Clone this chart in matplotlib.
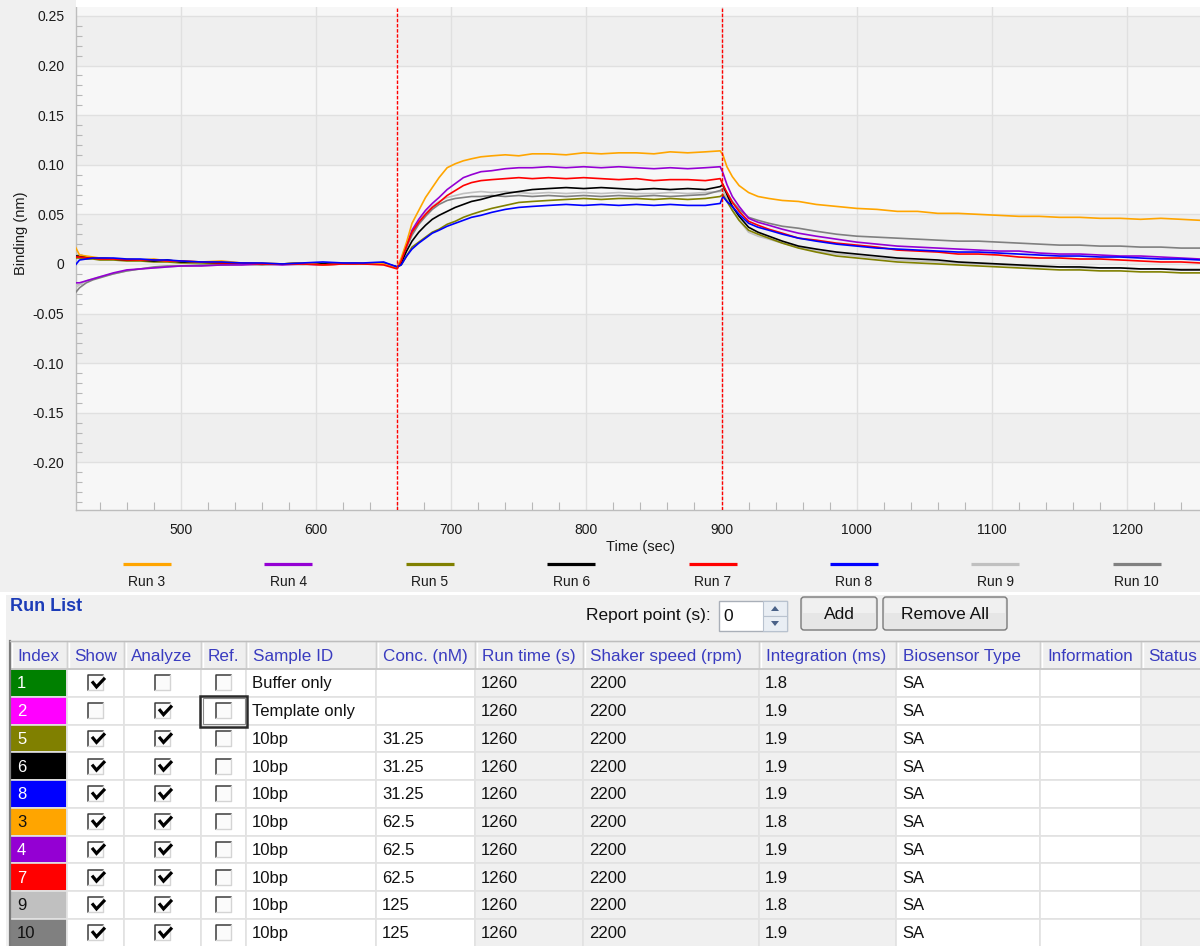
import matplotlib
matplotlib.use("Agg")  # headless
import matplotlib.pyplot as plt
from matplotlib.patches import Rectangle, FancyBboxPatch, Polygon
from matplotlib.ticker import MultipleLocator, FuncFormatter
from matplotlib.colors import to_rgb

plt.rcParams["font.family"] = ["Liberation Sans", "DejaVu Sans"]

# ---- sensorgram traces (time in s, binding in nm) ----
T = [422, 425, 430, 435, 440, 450, 460, 470, 480, 490, 500, 515, 530, 545, 560, 575, 590, 605, 620, 635, 650, 660,
     663, 667, 671, 676, 681, 686, 691, 697, 703, 709, 715, 722, 730, 740, 750, 760, 772, 785, 798, 811, 824, 837,
     850, 862, 875, 888, 899,
     901, 904, 908, 913, 920, 927, 935, 945, 957, 970, 985, 1000, 1015, 1030, 1045, 1060, 1075, 1090, 1105, 1120,
     1135, 1150, 1165, 1180, 1195, 1210, 1225, 1240, 1254]

RUN3 = [0.017, 0.009, 0.008, 0.007, 0.006, 0.005, 0.005, 0.004, 0.005, 0.003, 0.003, 0.002, 0.003, 0.001, 0.001, 0.000,
        0.001, -0.001, 0.000, 0.001, 0.000, -0.004,
        0.006, 0.022, 0.041, 0.054, 0.067, 0.077, 0.087, 0.097, 0.101, 0.104, 0.106, 0.108, 0.109, 0.110, 0.109, 0.111,
        0.111, 0.110, 0.112, 0.111, 0.112, 0.112, 0.111, 0.113, 0.112, 0.113, 0.114,
        0.110, 0.098, 0.088, 0.079, 0.072, 0.068, 0.066, 0.064, 0.063, 0.060, 0.058, 0.056, 0.055, 0.053, 0.053, 0.051,
        0.051, 0.050, 0.049, 0.048, 0.048, 0.047, 0.047, 0.046, 0.046, 0.045, 0.046, 0.045, 0.044]
RUN4 = [-0.019, -0.019, -0.017, -0.015, -0.013, -0.009, -0.006, -0.005, -0.004, -0.003, -0.002, -0.002, -0.001, -0.001,
        0.000, -0.001, 0.000, -0.001, 0.000, 0.001, 0.000, -0.003,
        0.004, 0.019, 0.034, 0.045, 0.054, 0.061, 0.067, 0.075, 0.081, 0.087, 0.090, 0.093, 0.094, 0.096, 0.097, 0.097,
        0.098, 0.097, 0.098, 0.097, 0.098, 0.097, 0.096, 0.097, 0.096, 0.097, 0.098,
        0.092, 0.080, 0.068, 0.058, 0.046, 0.042, 0.039, 0.035, 0.031, 0.028, 0.025, 0.022, 0.020, 0.018, 0.017, 0.016,
        0.015, 0.014, 0.013, 0.013, 0.011, 0.010, 0.010, 0.009, 0.008, 0.008, 0.007, 0.006, 0.005]
RUN5 = [0.006, 0.006, 0.005, 0.005, 0.004, 0.004, 0.003, 0.003, 0.002, 0.002, 0.001, 0.001, 0.000, 0.001, 0.000, 0.000,
        0.001, 0.000, 0.001, 0.000, 0.000, -0.003,
        -0.001, 0.008, 0.017, 0.022, 0.027, 0.032, 0.035, 0.040, 0.043, 0.047, 0.050, 0.053, 0.056, 0.059, 0.062, 0.063,
        0.064, 0.065, 0.066, 0.065, 0.066, 0.066, 0.065, 0.066, 0.065, 0.066, 0.068,
        0.070, 0.063, 0.054, 0.044, 0.034, 0.030, 0.026, 0.021, 0.016, 0.012, 0.008, 0.006, 0.004, 0.002, 0.001, 0.000,
        -0.001, -0.002, -0.003, -0.004, -0.005, -0.006, -0.006, -0.007, -0.007, -0.008, -0.008, -0.009, -0.009]
RUN6 = [0.008, 0.008, 0.007, 0.006, 0.006, 0.005, 0.004, 0.004, 0.003, 0.004, 0.002, 0.002, 0.001, 0.001, 0.000, 0.000,
        0.001, 0.000, 0.000, 0.001, 0.001, -0.003,
        0.001, 0.013, 0.023, 0.032, 0.039, 0.045, 0.049, 0.053, 0.057, 0.060, 0.063, 0.065, 0.068, 0.071, 0.073, 0.075,
        0.076, 0.077, 0.076, 0.077, 0.076, 0.075, 0.076, 0.075, 0.076, 0.075, 0.078,
        0.080, 0.070, 0.058, 0.048, 0.037, 0.032, 0.028, 0.023, 0.018, 0.015, 0.012, 0.010, 0.008, 0.006, 0.005, 0.004,
        0.002, 0.001, 0.000, -0.001, -0.002, -0.003, -0.003, -0.004, -0.004, -0.005, -0.005, -0.006, -0.006]
RUN7 = [0.007, 0.007, 0.006, 0.006, 0.005, 0.005, 0.004, 0.004, 0.004, 0.003, 0.003, 0.002, 0.001, 0.001, 0.000, 0.000,
        0.000, -0.001, 0.000, 0.000, -0.001, -0.005,
        0.003, 0.018, 0.032, 0.042, 0.050, 0.057, 0.062, 0.069, 0.074, 0.079, 0.082, 0.084, 0.085, 0.086, 0.087, 0.086,
        0.087, 0.086, 0.087, 0.086, 0.085, 0.086, 0.084, 0.085, 0.085, 0.084, 0.086,
        0.080, 0.072, 0.062, 0.053, 0.043, 0.039, 0.035, 0.031, 0.026, 0.024, 0.021, 0.019, 0.017, 0.014, 0.013, 0.012,
        0.010, 0.010, 0.009, 0.007, 0.006, 0.006, 0.005, 0.005, 0.004, 0.003, 0.002, 0.002, 0.001]
RUN8 = [-0.001, 0.004, 0.005, 0.006, 0.006, 0.006, 0.005, 0.005, 0.004, 0.004, 0.003, 0.002, 0.002, 0.001, 0.001, 0.000,
        0.001, 0.002, 0.001, 0.001, 0.002, -0.003,
        -0.001, 0.008, 0.015, 0.021, 0.026, 0.031, 0.034, 0.038, 0.041, 0.044, 0.047, 0.049, 0.052, 0.055, 0.057, 0.058,
        0.059, 0.060, 0.059, 0.060, 0.059, 0.060, 0.059, 0.060, 0.059, 0.059, 0.061,
        0.068, 0.063, 0.058, 0.050, 0.041, 0.037, 0.034, 0.030, 0.026, 0.023, 0.020, 0.018, 0.016, 0.015, 0.014, 0.013,
        0.012, 0.012, 0.011, 0.010, 0.009, 0.008, 0.008, 0.007, 0.007, 0.006, 0.005, 0.005, 0.004]
RUN9 = [-0.024, -0.021, -0.017, -0.015, -0.013, -0.010, -0.007, -0.005, -0.004, -0.003, -0.002, -0.002, -0.001, -0.001,
        0.000, 0.000, -0.001, 0.000, 0.000, 0.001, 0.000, -0.003,
        0.004, 0.019, 0.031, 0.043, 0.051, 0.058, 0.063, 0.067, 0.069, 0.071, 0.072, 0.073, 0.072, 0.073, 0.072, 0.071,
        0.072, 0.071, 0.072, 0.071, 0.072, 0.071, 0.071, 0.072, 0.071, 0.072, 0.073,
        0.074, 0.066, 0.054, 0.044, 0.032, 0.028, 0.025, 0.021, 0.017, 0.013, 0.010, 0.008, 0.006, 0.004, 0.003, 0.002,
        0.001, 0.000, -0.001, -0.002, -0.003, -0.003, -0.004, -0.004, -0.004, -0.005, -0.005, -0.005, -0.005]
RUN10 = [-0.029, -0.024, -0.019, -0.016, -0.014, -0.010, -0.007, -0.005, -0.003, -0.002, -0.002, -0.001, -0.001, 0.000,
         -0.001, 0.000, 0.000, 0.001, 0.000, 0.001, 0.000, -0.003,
         0.003, 0.017, 0.029, 0.040, 0.048, 0.055, 0.060, 0.064, 0.066, 0.067, 0.068, 0.068, 0.069, 0.068, 0.069, 0.068,
         0.069, 0.068, 0.069, 0.068, 0.069, 0.068, 0.069, 0.068, 0.069, 0.070, 0.074,
         0.076, 0.072, 0.063, 0.055, 0.047, 0.044, 0.041, 0.038, 0.036, 0.033, 0.030, 0.028, 0.027, 0.026, 0.025, 0.024,
         0.023, 0.023, 0.022, 0.021, 0.020, 0.019, 0.019, 0.018, 0.018, 0.017, 0.017, 0.016, 0.016]

STEP_BOUNDARIES = [660, 900]

RUN_COLORS = {1: "#008000", 2: "#ff00ff", 3: "#ffa500", 4: "#9400d3", 5: "#808000",
              6: "#000000", 7: "#ff0000", 8: "#0000ff", 9: "#c0c0c0", 10: "#808080"}
LEGEND_RUNS = [3, 4, 5, 6, 7, 8, 9, 10]
TRACES = {3: RUN3, 4: RUN4, 5: RUN5, 6: RUN6, 7: RUN7, 8: RUN8, 9: RUN9, 10: RUN10}
DRAW_ORDER = [9, 10, 5, 6, 4, 3, 7, 8]

# ---- run list table ----
HEADERS = ["Index", "Show", "Analyze", "Ref.", "Sample ID", "Conc. (nM)", "Run time (s)",
           "Shaker speed (rpm)", "Integration (ms)", "Biosensor Type", "Information", "Status"]
COL_X = [10, 67, 124, 201, 246, 376, 475, 583, 759, 896, 1040, 1141, 1230]
GRAY_COLS = {"Run time (s)", "Shaker speed (rpm)", "Integration (ms)", "Status"}
INDEX = [1, 2, 5, 6, 8, 3, 4, 7, 9, 10]
SHOW = [1, 0, 1, 1, 1, 1, 1, 1, 1, 1]
ANALYZE = [0, 1, 1, 1, 1, 1, 1, 1, 1, 1]
REF = [0, 0, 0, 0, 0, 0, 0, 0, 0, 0]
SAMPLE_ID = ["Buffer only", "Template only", "10bp", "10bp", "10bp", "10bp", "10bp", "10bp", "10bp", "10bp"]
CONC = ["", "", "31.25", "31.25", "31.25", "62.5", "62.5", "62.5", "125", "125"]
RUN_TIME = [1260] * 10
SHAKER = [2200] * 10
INTEGRATION = [1.8, 1.9, 1.9, 1.9, 1.9, 1.8, 1.9, 1.9, 1.8, 1.9]
BIOSENSOR = ["SA"] * 10
SELECTED_CELL = (1, "Ref.")

W, H = 1200, 946
fig = plt.figure(figsize=(W / 100, H / 100), dpi=100, facecolor="#f0f0f0")

# ---- binding chart ----
ax = fig.add_axes([76 / W, 1 - 510 / H, 1 - 76 / W, (510 - 7) / H])
ax.set_facecolor("#f7f7f7")
for k in range(-5, 6):
    if k % 2 == 0:
        ax.axhspan(k * 0.05, (k + 1) * 0.05, color="#efefef", lw=0, zorder=0)
ax.set_axisbelow(True)
ax.grid(True, which="major", color="#e0e0e0", lw=1.0)

for run in DRAW_ORDER:
    ax.plot(T, TRACES[run], color=RUN_COLORS[run], lw=1.2, zorder=3)
for xb in STEP_BOUNDARIES:
    ax.axvline(xb, color="#ff0000", lw=1.0, ls=(0, (2.5, 1.2)), zorder=4)

ax.set_xlim(422.4, 1254)
ax.set_ylim(-0.248, 0.259)
ax.xaxis.set_major_locator(MultipleLocator(100))
ax.xaxis.set_minor_locator(MultipleLocator(20))
ax.yaxis.set_major_locator(MultipleLocator(0.05))
ax.yaxis.set_minor_locator(MultipleLocator(0.01))
ax.yaxis.set_major_formatter(FuncFormatter(lambda v, _: "0" if abs(v) < 1e-9 else f"{v:.2f}"))
ax.tick_params(which="major", length=0, labelsize=10, labelcolor="#1a1a1a")
ax.tick_params(axis="x", which="major", pad=9)
ax.tick_params(axis="y", which="major", pad=8.5)
ax.tick_params(axis="x", which="minor", direction="in", length=5.8, width=0.8, color="#b8b8b8")
ax.tick_params(axis="y", which="minor", direction="in", length=4.3, width=0.8, color="#b8b8b8")
for side in ("top", "right"):
    ax.spines[side].set_visible(False)
for side in ("left", "bottom"):
    ax.spines[side].set_color("#bdbdbd")
    ax.spines[side].set_linewidth(1.0)

# ---- overlay in pixel coordinates for the window furniture ----
ui = fig.add_axes([0, 0, 1, 1], zorder=5)
ui.set_xlim(0, W)
ui.set_ylim(H, 0)
ui.axis("off")

ui.add_patch(Rectangle((76, 0), W - 76, 7, facecolor="white", lw=0))
ui.text(640, 547, "Time (sec)", ha="center", va="center", fontsize=10.5, color="#1a1a1a")
ui.text(21, 233, "Binding (nm)", ha="center", va="center", rotation=90, fontsize=10.5, color="#1a1a1a")

# legend strip
for i, run in enumerate(LEGEND_RUNS):
    cx = 147 + 141.4 * i
    ui.plot([cx - 24, cx + 24], [564, 564], color=RUN_COLORS[run], lw=2.3, solid_capstyle="butt")
    ui.text(cx, 582, f"Run {run}", ha="center", va="center", fontsize=10, color="#1a1a1a")

# run list panel
ui.add_patch(Rectangle((0, 592), W, 3, facecolor="white", lw=0))
ui.add_patch(Rectangle((0, 592), 6, H - 592, facecolor="white", lw=0))
ui.text(10, 606, "Run List", ha="left", va="center", fontsize=13, fontweight="bold", color="#1c3cb8")

ui.text(711, 615, "Report point (s):", ha="right", va="center", fontsize=12.5, color="#111111")
ui.add_patch(Rectangle((719, 601), 68, 30, facecolor="white", edgecolor="#a9afb8", lw=1))
ui.text(723, 616, "0", ha="left", va="center", fontsize=12.5, color="#111111")
for y0, up in ((601, True), (616, False)):
    ui.add_patch(Rectangle((763, y0), 24, 15, facecolor="#e9eef4", edgecolor="#b8c2cf", lw=0.8))
    cy = y0 + 7.5
    pts = [(771, cy + 2.5), (779, cy + 2.5), (775, cy - 2.5)] if up else \
          [(771, cy - 2.5), (779, cy - 2.5), (775, cy + 2.5)]
    ui.add_patch(Polygon(pts, closed=True, facecolor="#4a6288", lw=0))

for x0, w, label in ((801, 76, "Add"), (883, 124, "Remove All")):
    ui.add_patch(FancyBboxPatch((x0, 597), w, 33, boxstyle="round,pad=0,rounding_size=3",
                                facecolor="#e6e6e6", edgecolor="#7a7a7a", lw=1))
    ui.add_patch(Rectangle((x0 + 2, 599), w - 4, 14, facecolor="#f0f0f0", lw=0))
    ui.text(x0 + w / 2, 614, label, ha="center", va="center", fontsize=12.5, color="#111111")

# table
TOP, HEAD_H, ROW_H = 641, 28, 27.75
for j, name in enumerate(HEADERS):
    x0, x1 = COL_X[j], COL_X[j + 1]
    ui.add_patch(Rectangle((x0, TOP), x1 - x0, HEAD_H, facecolor="#efefef", edgecolor="#d2d2d2", lw=1))
    ui.plot([x0 + 1.5, x0 + 1.5], [TOP + 2, TOP + HEAD_H - 2], color="white", lw=1)
    ui.text(x0 + 7, TOP + HEAD_H / 2 + 1, name, ha="left", va="center", fontsize=12.3, color="#3a3cc0")
ui.plot([10, W], [TOP + HEAD_H, TOP + HEAD_H], color="#c4c4c4", lw=1.2)


def draw_checkbox(cx, cy, checked):
    s = 15
    x0, y0 = cx - s / 2, cy - s / 2
    ui.add_patch(Rectangle((x0, y0), s, s, facecolor="#fbfbfb", lw=0))
    ui.plot([x0, x0, x0 + s], [y0 + s, y0, y0], color="#3c3c3c", lw=1.1)
    ui.plot([x0 + s, x0 + s, x0], [y0, y0 + s, y0 + s], color="#d4d4d4", lw=1.0)
    if checked:
        ui.plot([x0 + 4, x0 + 8.5, x0 + 17], [y0 + 6, y0 + 11.5, y0 + 2.5],
                color="#000000", lw=2.3, solid_joinstyle="miter", solid_capstyle="butt")


columns = {"Sample ID": SAMPLE_ID, "Conc. (nM)": CONC, "Run time (s)": RUN_TIME,
           "Shaker speed (rpm)": SHAKER, "Integration (ms)": INTEGRATION, "Biosensor Type": BIOSENSOR}
flags = {"Show": SHOW, "Analyze": ANALYZE, "Ref.": REF}

for i, run in enumerate(INDEX):
    y0 = TOP + HEAD_H + ROW_H * i
    cy = y0 + ROW_H / 2
    for j, name in enumerate(HEADERS):
        x0, x1 = COL_X[j], COL_X[j + 1]
        if name == "Index":
            face = RUN_COLORS[run]
        elif name in GRAY_COLS:
            face = "#f0f0f0"
        else:
            face = "white"
        ui.add_patch(Rectangle((x0, y0), x1 - x0, ROW_H, facecolor=face, edgecolor="#e2e2e2", lw=1.2))
        if name == "Index":
            r, g, b = to_rgb(RUN_COLORS[run])
            txt = "#111111" if 0.299 * r + 0.587 * g + 0.114 * b > 0.5 else "white"
            ui.text(x0 + 7, cy + 1, str(run), ha="left", va="center", fontsize=12, color=txt)
        elif name in flags:
            draw_checkbox((x0 + x1) / 2, cy, flags[name][i])
        elif name in columns:
            ui.text(x0 + 6, cy + 1, str(columns[name][i]), ha="left", va="center",
                    fontsize=12, color="#111111")

# focused cell
sel_row, sel_col = SELECTED_CELL
j = HEADERS.index(sel_col)
sy = TOP + HEAD_H + ROW_H * sel_row
ui.add_patch(Rectangle((COL_X[j] - 1, sy - 1), COL_X[j + 1] - COL_X[j] + 2, ROW_H + 3,
                       facecolor="none", edgecolor="#2a2a2a", lw=1.8))
ui.add_patch(Rectangle((COL_X[j] + 1.5, sy + 1.5), COL_X[j + 1] - COL_X[j] - 3, ROW_H - 2,
                       facecolor="none", edgecolor="#8a8a8a", lw=0.8))

ui.plot([10, 10], [TOP, H], color="#7a7a7a", lw=1.6)
ui.plot([10, W], [TOP, TOP], color="#bdbdbd", lw=1.0)

fig.savefig("out.png", dpi=100, facecolor=fig.get_facecolor())
